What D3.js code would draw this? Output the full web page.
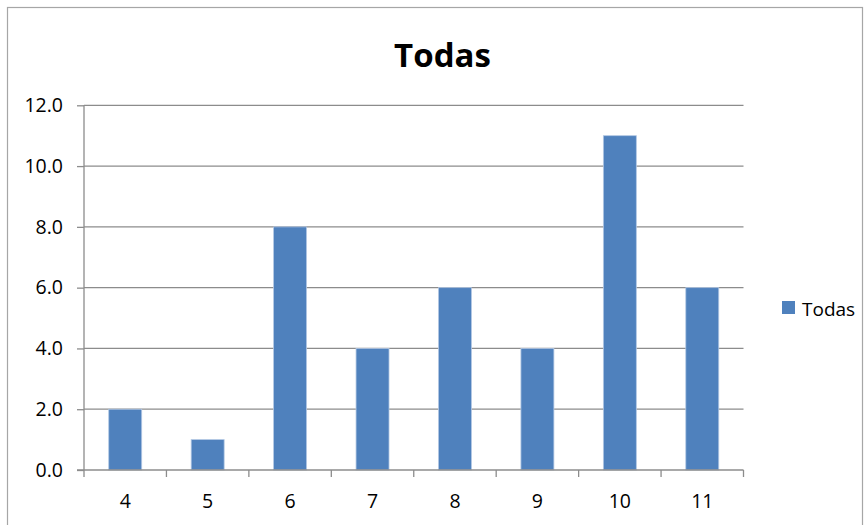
<!DOCTYPE html>
<html>
<head>
<meta charset="utf-8">
<script src="https://cdn.jsdelivr.net/npm/d3@7/dist/d3.min.js"></script>
<style>
  html, body { margin: 0; padding: 0; background: #fff; }
  svg { display: block; }
  text { font-family: "Open Sans", sans-serif; fill: #000; }
</style>
</head>
<body>
<svg id="chart" width="866" height="525"></svg>
<script>
const categories = ["4", "5", "6", "7", "8", "9", "10", "11"];
const values = [2, 1, 8, 4, 6, 4, 11, 6];
const seriesName = "Todas";
const chartTitle = "Todas";
const yTicks = [0, 2, 4, 6, 8, 10, 12];

const svg = d3.select("#chart");
const W = 866, H = 525;
const plot = { left: 84, right: 743.5, top: 105.3, bottom: 470 };

// outer chart border
svg.append("rect")
  .attr("x", 7.5).attr("y", 7.5)
  .attr("width", 855).attr("height", 530)
  .attr("fill", "none").attr("stroke", "#a6a6a6").attr("stroke-width", 1.2);

const x = d3.scaleBand()
  .domain(categories)
  .range([plot.left, plot.right])
  .paddingInner(0.6).paddingOuter(0.3);

const y = d3.scaleLinear()
  .domain([0, 12])
  .range([plot.bottom, plot.top]);

// gridlines + y tick marks
const yAxis = d3.axisLeft(y)
  .tickValues(yTicks)
  .tickSize(7)
  .tickPadding(14)
  .tickFormat(d3.format(".1f"));

const gy = svg.append("g")
  .attr("transform", `translate(${plot.left},0)`)
  .call(yAxis);
gy.select(".domain").remove();
gy.selectAll(".tick line").attr("stroke", "#8c8c8c").attr("stroke-width", 1.3);
gy.selectAll(".tick text")
  .attr("font-size", "19.5px")
  .attr("font-family", "Open Sans, sans-serif")
  .attr("fill", "#000");

svg.append("g").selectAll("line.grid")
  .data(yTicks.filter(d => d > 0))
  .join("line")
  .attr("x1", plot.left).attr("x2", plot.right)
  .attr("y1", d => y(d)).attr("y2", d => y(d))
  .attr("stroke", "#8c8c8c").attr("stroke-width", 1.3);

// bars
svg.append("g").selectAll("rect")
  .data(values)
  .join("rect")
  .attr("x", (d, i) => x(categories[i]))
  .attr("y", d => y(d))
  .attr("width", x.bandwidth())
  .attr("height", d => y(0) - y(d))
  .attr("fill", "#4f81bd")
  .attr("stroke", "#b3c8e4")
  .attr("stroke-width", 0.8);

// left axis line
svg.append("line")
  .attr("x1", plot.left).attr("x2", plot.left)
  .attr("y1", plot.top).attr("y2", plot.bottom)
  .attr("stroke", "#8c8c8c").attr("stroke-width", 1.3);

// bottom axis
const xEdges = d3.range(categories.length + 1).map(i => plot.left + i * x.step());
svg.append("line")
  .attr("x1", plot.left - 7).attr("x2", plot.right)
  .attr("y1", plot.bottom).attr("y2", plot.bottom)
  .attr("stroke", "#8c8c8c").attr("stroke-width", 1.3);
svg.append("g").selectAll("line")
  .data(xEdges)
  .join("line")
  .attr("x1", d => d).attr("x2", d => d)
  .attr("y1", plot.bottom).attr("y2", plot.bottom + 7)
  .attr("stroke", "#8c8c8c").attr("stroke-width", 1.3);

const xAxis = d3.axisBottom(x).tickSize(0).tickPadding(0);
const gx = svg.append("g")
  .attr("transform", `translate(0,${plot.bottom})`)
  .call(xAxis);
gx.select(".domain").remove();
gx.selectAll(".tick text")
  .attr("dy", null)
  .attr("y", 38)
  .attr("font-size", "19.5px")
  .attr("font-family", "Open Sans, sans-serif")
  .attr("fill", "#000");

// title
svg.append("text")
  .attr("x", 442.5).attr("y", 66.5)
  .attr("text-anchor", "middle")
  .attr("font-size", "33px")
  .attr("font-weight", "bold")
  .text(chartTitle);

// legend
const lg = svg.append("g");
lg.append("rect")
  .attr("x", 782).attr("y", 301)
  .attr("width", 13).attr("height", 13)
  .attr("fill", "#4f81bd");
lg.append("text")
  .attr("x", 802).attr("y", 316)
  .attr("font-size", "19px")
  .text(seriesName);
</script>
</body>
</html>
